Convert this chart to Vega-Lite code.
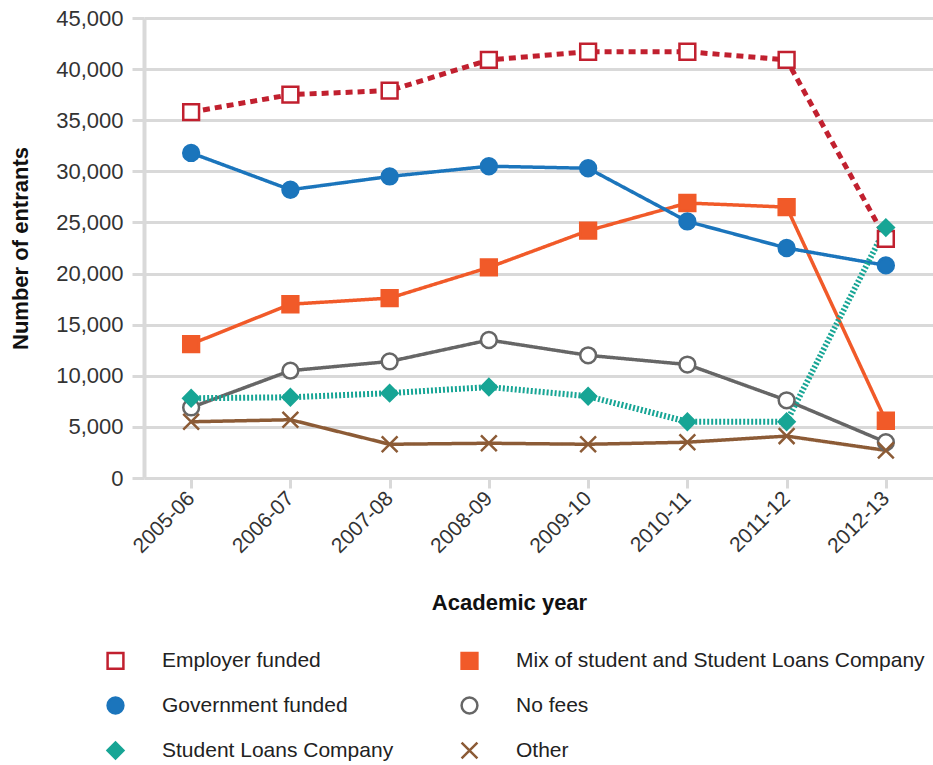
{
  "$schema": "https://vega.github.io/schema/vega-lite/v6.json",
  "width": 789,
  "height": 460,
  "autosize": "none",
  "padding": {"left": 144, "top": 18, "right": 0, "bottom": 287},
  "background": "white",
  "config": {
    "font": "Liberation Sans",
    "view": {"stroke": null}
  },
  "data": {
    "values": [
      {"year": "2005-06", "type": "Employer funded", "value": 35800},
      {"year": "2006-07", "type": "Employer funded", "value": 37500},
      {"year": "2007-08", "type": "Employer funded", "value": 37900},
      {"year": "2008-09", "type": "Employer funded", "value": 40900},
      {"year": "2009-10", "type": "Employer funded", "value": 41700},
      {"year": "2010-11", "type": "Employer funded", "value": 41700},
      {"year": "2011-12", "type": "Employer funded", "value": 40900},
      {"year": "2012-13", "type": "Employer funded", "value": 23400},
      {"year": "2005-06", "type": "Mix of student and Student Loans Company", "value": 13100},
      {"year": "2006-07", "type": "Mix of student and Student Loans Company", "value": 17000},
      {"year": "2007-08", "type": "Mix of student and Student Loans Company", "value": 17600},
      {"year": "2008-09", "type": "Mix of student and Student Loans Company", "value": 20600},
      {"year": "2009-10", "type": "Mix of student and Student Loans Company", "value": 24200},
      {"year": "2010-11", "type": "Mix of student and Student Loans Company", "value": 26900},
      {"year": "2011-12", "type": "Mix of student and Student Loans Company", "value": 26500},
      {"year": "2012-13", "type": "Mix of student and Student Loans Company", "value": 5600},
      {"year": "2005-06", "type": "Government funded", "value": 31800},
      {"year": "2006-07", "type": "Government funded", "value": 28200},
      {"year": "2007-08", "type": "Government funded", "value": 29500},
      {"year": "2008-09", "type": "Government funded", "value": 30500},
      {"year": "2009-10", "type": "Government funded", "value": 30300},
      {"year": "2010-11", "type": "Government funded", "value": 25100},
      {"year": "2011-12", "type": "Government funded", "value": 22500},
      {"year": "2012-13", "type": "Government funded", "value": 20800},
      {"year": "2005-06", "type": "No fees", "value": 6900},
      {"year": "2006-07", "type": "No fees", "value": 10500},
      {"year": "2007-08", "type": "No fees", "value": 11400},
      {"year": "2008-09", "type": "No fees", "value": 13500},
      {"year": "2009-10", "type": "No fees", "value": 12000},
      {"year": "2010-11", "type": "No fees", "value": 11100},
      {"year": "2011-12", "type": "No fees", "value": 7600},
      {"year": "2012-13", "type": "No fees", "value": 3500},
      {"year": "2005-06", "type": "Student Loans Company", "value": 7800},
      {"year": "2006-07", "type": "Student Loans Company", "value": 7900},
      {"year": "2007-08", "type": "Student Loans Company", "value": 8300},
      {"year": "2008-09", "type": "Student Loans Company", "value": 8900},
      {"year": "2009-10", "type": "Student Loans Company", "value": 8000},
      {"year": "2010-11", "type": "Student Loans Company", "value": 5500},
      {"year": "2011-12", "type": "Student Loans Company", "value": 5500},
      {"year": "2012-13", "type": "Student Loans Company", "value": 24500},
      {"year": "2005-06", "type": "Other", "value": 5500},
      {"year": "2006-07", "type": "Other", "value": 5700},
      {"year": "2007-08", "type": "Other", "value": 3300},
      {"year": "2008-09", "type": "Other", "value": 3400},
      {"year": "2009-10", "type": "Other", "value": 3300},
      {"year": "2010-11", "type": "Other", "value": 3500},
      {"year": "2011-12", "type": "Other", "value": 4100},
      {"year": "2012-13", "type": "Other", "value": 2700}
    ]
  },
  "encoding": {
    "x": {
      "field": "year",
      "type": "ordinal",
      "scale": {"type": "point", "padding": 0.475},
      "axis": {
        "title": "Academic year",
        "grid": false,
        "domain": false,
        "ticks": true,
        "tickColor": "#d9d9d9",
        "tickWidth": 3,
        "tickSize": 10,
        "labelAngle": -45,
        "labelAlign": "right",
        "labelBaseline": "middle",
        "labelPadding": 7,
        "labelFontSize": 21,
        "labelColor": "#333333",
        "titleFontSize": 22,
        "titleFontWeight": "bold",
        "titleColor": "#111111",
        "titleX": 365,
        "titleY": 114,
        "titleBaseline": "top"
      }
    },
    "y": {
      "field": "value",
      "type": "quantitative",
      "scale": {"domain": [0, 45000]},
      "axis": {
        "title": "Number of entrants",
        "values": [0, 5000, 10000, 15000, 20000, 25000, 30000, 35000, 40000, 45000],
        "format": ",d",
        "grid": true,
        "gridColor": "#d9d9d9",
        "gridWidth": 3,
        "domain": true,
        "domainColor": "#d9d9d9",
        "domainWidth": 4,
        "ticks": true,
        "tickColor": "#d9d9d9",
        "tickWidth": 3,
        "tickSize": 12,
        "labelFontSize": 22,
        "labelColor": "#333333",
        "labelPadding": 9,
        "titleFontSize": 22,
        "titleFontWeight": "bold",
        "titleColor": "#111111",
        "titleX": -112,
        "titleBaseline": "bottom"
      }
    }
  },
  "layer": [
    {
      "mark": {"type": "line", "strokeCap": "butt"},
      "encoding": {
        "detail": {"field": "type", "type": "nominal"},
        "stroke": {
          "field": "type",
          "type": "nominal",
          "scale": {
            "domain": ["Employer funded", "Mix of student and Student Loans Company", "Government funded", "No fees", "Student Loans Company", "Other"],
            "range": ["#c1202f", "#f15a29", "#1b75bc", "#666666", "#17a595", "#8c5b36"]
          }
        },
        "strokeWidth": {
          "condition": [
            {"test": "datum.type === 'Employer funded'", "value": 5},
            {"test": "datum.type === 'Student Loans Company'", "value": 6}
          ],
          "value": 3.5
        },
        "strokeDash": {
          "condition": [
            {"test": "datum.type === 'Employer funded'", "value": [7, 5]},
            {"test": "datum.type === 'Student Loans Company'", "value": [2, 2]}
          ],
          "value": [1, 0]
        }
      }
    },
    {
      "mark": {"type": "point", "filled": true, "opacity": 1, "strokeWidth": 2.5},
      "encoding": {
        "stroke": {
          "field": "type",
          "type": "nominal",
          "legend": {
            "orient": "none",
            "direction": "horizontal",
            "legendX": -39,
            "legendY": 632,
            "columns": 2,
            "columnPadding": 62,
            "rowPadding": 18,
            "title": null,
            "labelFontSize": 21,
            "labelColor": "#222222",
            "labelOffset": 36,
            "labelLimit": 600,
            "symbolSize": 240,
            "symbolStrokeWidth": 2.5
          }
        },
        "fill": {
          "field": "type",
          "type": "nominal",
          "scale": {
            "domain": ["Employer funded", "Mix of student and Student Loans Company", "Government funded", "No fees", "Student Loans Company", "Other"],
            "range": ["#ffffff", "#f15a29", "#1b75bc", "#ffffff", "#17a595", "transparent"]
          }
        },
        "shape": {
          "field": "type",
          "type": "nominal",
          "scale": {
            "domain": ["Employer funded", "Mix of student and Student Loans Company", "Government funded", "No fees", "Student Loans Company", "Other"],
            "range": ["square", "square", "circle", "circle", "diamond", "M-1,-1L1,1M-1,1L1,-1"]
          }
        },
        "size": {
          "field": "type",
          "type": "nominal",
          "scale": {
            "domain": ["Employer funded", "Mix of student and Student Loans Company", "Government funded", "No fees", "Student Loans Company", "Other"],
            "range": [250, 250, 110, 140, 260, 110]
          }
        }
      }
    }
  ]
}
